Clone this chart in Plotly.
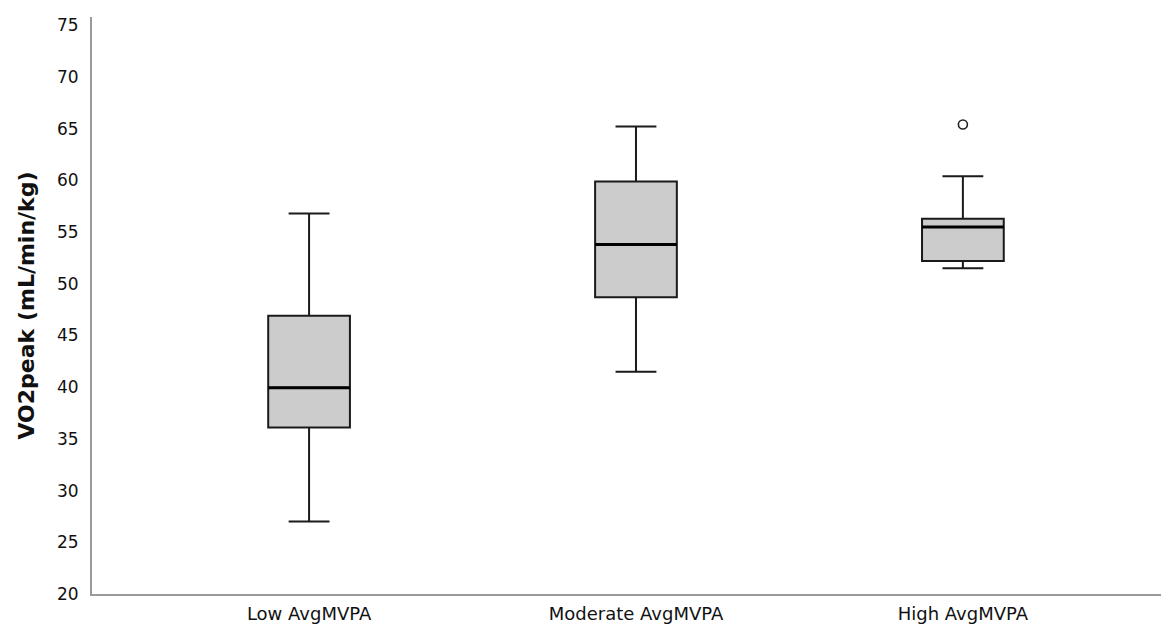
import plotly.graph_objects as go

categories = ["Low AvgMVPA", "Moderate AvgMVPA", "High AvgMVPA"]
lower_whisker = [27.0, 41.5, 51.5]
q1 = [36.1, 48.7, 52.2]
median = [39.95, 53.8, 55.5]
q3 = [46.9, 59.9, 56.3]
upper_whisker = [56.8, 65.2, 60.4]
outlier_cat = [2]
outlier_val = [65.4]
y_ticks = [20, 25, 30, 35, 40, 45, 50, 55, 60, 65, 70, 75]

pos = list(range(len(categories)))
box_w = 0.25

fig = go.Figure()
fig.add_trace(go.Box(
    x=pos, q1=q1, median=median, q3=q3,
    lowerfence=lower_whisker, upperfence=upper_whisker,
    width=box_w, whiskerwidth=0.5,
    fillcolor="#cccccc", line=dict(color="#1a1a1a", width=2),
    boxpoints=False, showlegend=False, hoverinfo="skip",
))
# thicker median lines
for p, m in zip(pos, median):
    fig.add_trace(go.Scatter(
        x=[p - box_w / 2, p + box_w / 2], y=[m, m], mode="lines",
        line=dict(color="#000000", width=3), showlegend=False, hoverinfo="skip",
    ))
fig.add_trace(go.Scatter(
    x=outlier_cat, y=outlier_val, mode="markers",
    marker=dict(symbol="circle-open", size=9, color="#222222", line=dict(width=1.6)),
    showlegend=False, hoverinfo="skip",
))

fig.update_layout(
    width=1161, height=627,
    margin=dict(l=92, r=0, t=17, b=33, autoexpand=False),
    plot_bgcolor="white", paper_bgcolor="white",
    font=dict(family="DejaVu Sans", color="#111111"),
    xaxis=dict(
        range=[-0.664, 2.606], tickmode="array", tickvals=pos, ticktext=categories,
        showgrid=False, zeroline=False, showline=True, linecolor="#999999", linewidth=2,
        ticks="", tickfont=dict(family="DejaVu Sans", size=18, color="#111111"),
        ticklabelstandoff=2, automargin=False,
    ),
    yaxis=dict(
        range=[20, 75.8], tickmode="array", tickvals=y_ticks,
        showgrid=False, zeroline=False, showline=True, linecolor="#999999", linewidth=2,
        ticks="", tickfont=dict(family="DejaVu Sans", size=17, color="#111111"),
        ticklabelstandoff=8, automargin=False,
        title=dict(text="<b>VO2peak (mL/min/kg)</b>", font=dict(family="DejaVu Sans", size=22, color="#111111"), standoff=16),
    ),
)

fig.write_html("out.html", config={"displayModeBar": False},
               post_script="document.body.style.margin='0';document.body.style.overflow='hidden';")
